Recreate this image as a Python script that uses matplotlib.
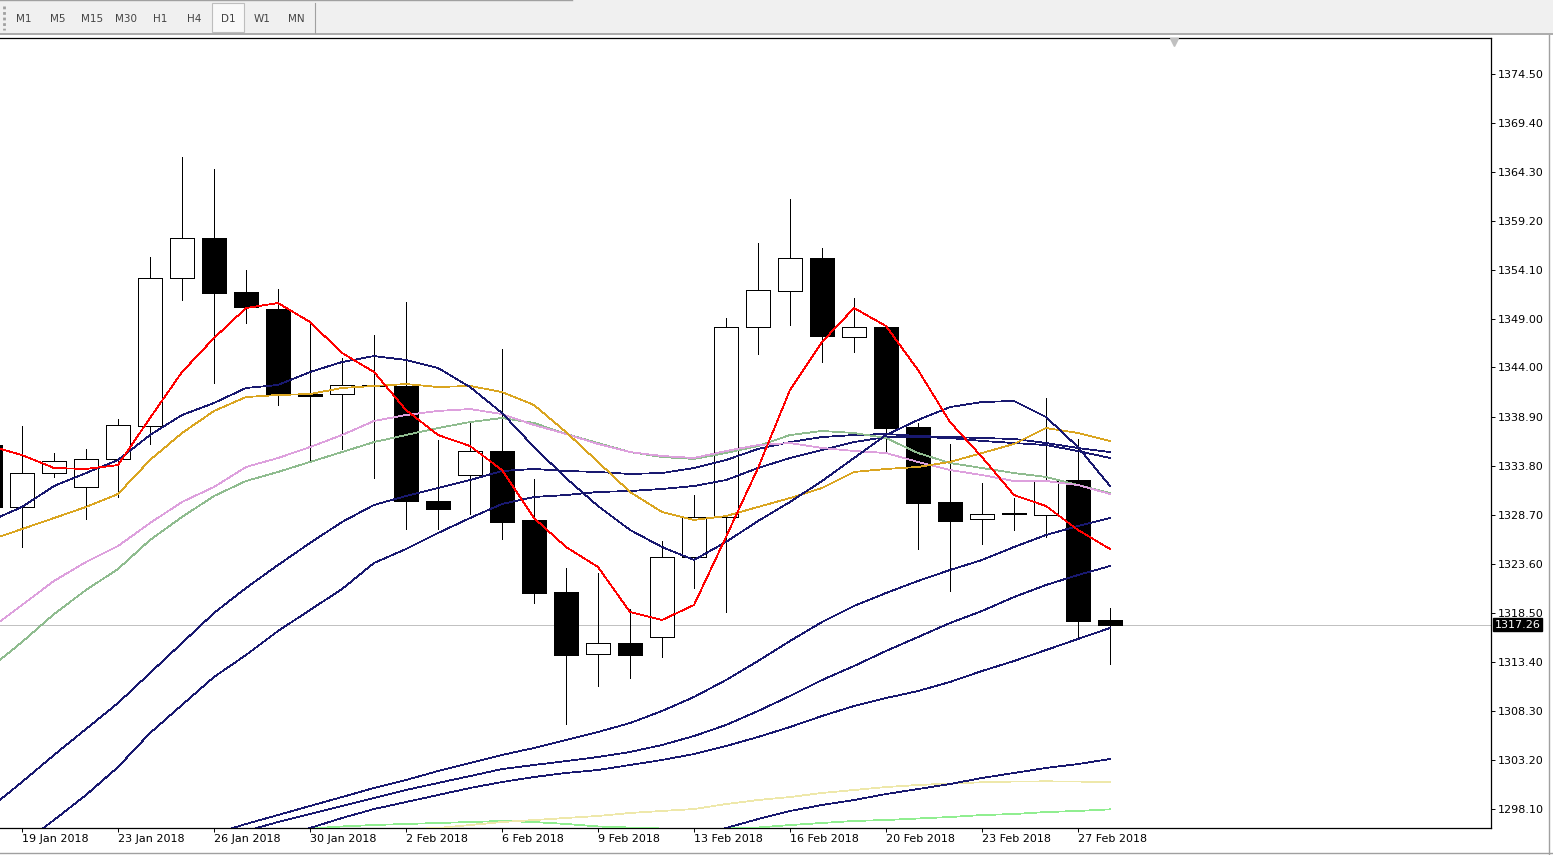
import matplotlib
matplotlib.use("Agg")
import matplotlib.pyplot as plt
import numpy as np
from matplotlib.patches import Rectangle
from matplotlib.lines import Line2D

# Daily candles, 18 Jan 2018 (bar -1, cut off at the left edge) .. 28 Feb 2018 (bar 34)
FIRST_BAR = -1
opens = [1335.94, 1329.47, 1333.00, 1331.55, 1334.46, 1337.95, 1353.27, 1357.43, 1351.82,
         1350.08, 1341.21, 1341.21, 1342.15, 1342.08, 1330.12, 1332.79, 1335.29, 1328.15,
         1320.63, 1314.19, 1315.33, 1315.95, 1324.27, 1328.43, 1348.21, 1351.92, 1355.35,
         1347.17, 1348.21, 1337.78, 1329.99, 1328.22, 1328.85, 1328.63, 1332.27, 1317.75]
highs = [1336.46, 1337.92, 1335.11, 1335.53, 1338.68, 1355.48, 1365.88, 1364.63, 1354.13,
         1352.16, 1348.59, 1344.95, 1347.38, 1350.81, 1336.46, 1338.36, 1345.92, 1332.41,
         1323.16, 1322.61, 1318.89, 1325.93, 1330.74, 1349.11, 1356.94, 1361.51, 1356.39,
         1351.22, 1348.42, 1338.20, 1336.05, 1331.99, 1330.46, 1340.83, 1336.57, 1319.00]
lows = [1328.97, 1325.34, 1332.65, 1328.25, 1330.57, 1336.08, 1351.01, 1342.42, 1348.66,
        1340.10, 1334.21, 1335.50, 1332.54, 1327.24, 1327.24, 1328.77, 1326.20, 1319.49,
        1306.94, 1310.92, 1311.75, 1313.94, 1321.11, 1318.61, 1345.43, 1348.45, 1344.60,
        1345.64, 1335.25, 1325.10, 1320.73, 1325.62, 1327.14, 1326.41, 1315.75, 1313.18]
closes = [1329.49, 1333.00, 1334.25, 1334.46, 1337.99, 1353.27, 1357.43, 1351.77, 1350.32,
          1341.14, 1341.04, 1342.15, 1342.08, 1330.15, 1329.32, 1335.29, 1327.97, 1320.59,
          1314.14, 1315.33, 1314.14, 1324.27, 1328.43, 1348.18, 1352.02, 1355.35, 1347.30,
          1348.18, 1337.74, 1329.88, 1328.07, 1328.74, 1328.75, 1332.23, 1317.68, 1317.26]
bid = 1317.26

# Moving averages (value per bar, starting at the given bar)
ma_red = [1335.84, 1334.90, 1333.55, 1333.45, 1333.86, 1338.75, 1343.53, 1347.06, 1350.18,
          1350.70, 1348.73, 1345.51, 1343.53, 1339.58, 1336.98, 1335.84, 1333.34, 1328.35,
          1325.34, 1323.26, 1318.58, 1317.75, 1319.31, 1326.38, 1333.55, 1341.66, 1346.65,
          1350.18, 1348.31, 1343.74, 1338.33, 1334.69, 1330.74, 1329.60, 1327.11, 1325.13]
ma_navy_a = [1328.04, 1329.50, 1331.68, 1333.03, 1334.38, 1336.98, 1339.06, 1340.31, 1341.87,
             1342.18, 1343.53, 1344.57, 1345.19, 1344.78, 1343.95, 1341.97, 1339.27, 1335.73,
             1332.51, 1329.60, 1327.11, 1325.34, 1323.99, 1325.86, 1328.04, 1330.02, 1332.20,
             1334.59, 1336.98, 1338.54, 1339.89, 1340.41, 1340.52, 1338.85, 1335.73, 1331.68]
ma_orange = [1326.07, 1327.21, 1328.35, 1329.50, 1330.85, 1334.38, 1337.19, 1339.48, 1340.93,
             1341.14, 1341.24, 1341.87, 1342.08, 1342.28, 1341.97, 1342.08, 1341.45, 1340.10,
             1337.29, 1334.18, 1331.06, 1328.98, 1328.15, 1328.56, 1329.50, 1330.43, 1331.47,
             1333.14, 1333.45, 1333.66, 1334.18, 1335.11, 1336.05, 1337.71, 1337.19, 1336.36]
ma_plum = [1316.82, 1319.31, 1321.81, 1323.78, 1325.44, 1327.83, 1330.02, 1331.58, 1333.66,
           1334.59, 1335.73, 1336.98, 1338.44, 1339.06, 1339.48, 1339.68, 1339.16, 1338.02,
           1337.09, 1336.05, 1335.21, 1334.80, 1334.59, 1335.32, 1335.94, 1336.15, 1335.63,
           1335.32, 1335.11, 1334.18, 1333.34, 1332.82, 1332.20, 1332.20, 1331.78, 1330.85]
ma_green = [1312.76, 1315.46, 1318.37, 1320.87, 1323.05, 1326.07, 1328.46, 1330.64, 1332.20,
            1333.14, 1334.18, 1335.21, 1336.25, 1336.98, 1337.71, 1338.33, 1338.75, 1338.23,
            1337.09, 1336.15, 1335.21, 1334.69, 1334.49, 1335.11, 1335.84, 1336.98, 1337.40,
            1337.19, 1336.67, 1335.11, 1334.07, 1333.55, 1333.03, 1332.62, 1331.78, 1330.95]
ma_navy_b = [1298.21, 1300.91, 1303.72, 1306.42, 1309.12, 1312.24, 1315.36, 1318.48, 1321.08,
             1323.47, 1325.76, 1327.94, 1329.71, 1330.64, 1331.47, 1332.30, 1333.24, 1333.45,
             1333.24, 1333.14, 1332.93, 1333.03, 1333.55, 1334.38, 1335.53, 1336.25, 1336.77,
             1336.98, 1337.09, 1336.88, 1336.77, 1336.67, 1336.57, 1336.15, 1335.63, 1335.21]
ma_navy_c = [1291.76, 1294.47, 1296.96, 1299.56, 1302.47, 1306.00, 1308.92, 1311.83, 1314.11,
             1316.61, 1318.79, 1320.97, 1323.68, 1325.13, 1326.79, 1328.35, 1329.81, 1330.54,
             1330.74, 1331.06, 1331.16, 1331.37, 1331.68, 1332.30, 1333.55, 1334.59, 1335.42,
             1336.25, 1336.77, 1336.77, 1336.67, 1336.36, 1336.15, 1335.94, 1335.32, 1334.59]
ma_navy_d = [1295.51, 1296.55, 1297.48, 1298.42, 1299.35, 1300.29, 1301.12, 1302.05, 1302.89,
             1303.72, 1304.45, 1305.28, 1306.11, 1307.04, 1308.29, 1309.75, 1311.51, 1313.49,
             1315.57, 1317.54, 1319.21, 1320.56, 1321.81, 1322.95, 1323.99, 1325.34, 1326.59,
             1327.52, 1328.35]
ma_navy_e = [1295.82, 1296.75, 1297.58, 1298.42, 1299.25, 1300.08, 1300.81, 1301.53, 1302.26,
             1302.68, 1303.09, 1303.51, 1304.03, 1304.76, 1305.69, 1306.84, 1308.29, 1309.85,
             1311.51, 1312.97, 1314.53, 1315.98, 1317.44, 1318.69, 1320.14, 1321.39, 1322.43,
             1323.36]
ma_navy_f = [1295.09, 1296.13, 1297.17, 1298.10, 1298.83, 1299.56, 1300.29, 1300.91, 1301.43,
             1301.85, 1302.16, 1302.68, 1303.20, 1303.82, 1304.65, 1305.59, 1306.63, 1307.77,
             1308.81, 1309.64, 1310.37, 1311.31, 1312.45, 1313.49, 1314.63, 1315.78, 1316.92]
ma_navy_g = [1295.30, 1296.13, 1297.06, 1297.90, 1298.52, 1299.04, 1299.66, 1300.18, 1300.70,
             1301.33, 1301.85, 1302.37, 1302.78, 1303.30]
ma_khaki = [1296.02, 1296.13, 1296.44, 1296.75, 1296.96, 1297.17, 1297.38, 1297.69, 1297.90,
            1298.10, 1298.62, 1299.04, 1299.35, 1299.77, 1300.08, 1300.39, 1300.60, 1300.75,
            1300.88, 1300.96, 1300.98, 1300.96, 1300.88]
ma_lightgreen = [1296.08, 1296.29, 1296.44, 1296.55, 1296.65, 1296.75, 1296.86, 1296.75,
                 1296.55, 1296.29, 1296.18, 1296.08, 1296.03, 1296.08, 1296.18, 1296.44,
                 1296.65, 1296.86, 1296.96, 1297.12, 1297.27, 1297.48, 1297.58, 1297.79,
                 1297.90, 1298.07]

date_ticks = [0, 3, 6, 9, 12, 15, 18, 21, 24, 27, 30, 33]
date_labels = ["19 Jan 2018", "23 Jan 2018", "26 Jan 2018", "30 Jan 2018", "2 Feb 2018",
               "6 Feb 2018", "9 Feb 2018", "13 Feb 2018", "16 Feb 2018", "20 Feb 2018",
               "23 Feb 2018", "27 Feb 2018"]
price_ticks = [1298.10, 1303.20, 1308.30, 1313.40, 1318.50, 1323.60, 1328.70, 1333.80,
               1338.90, 1344.00, 1349.00, 1354.10, 1359.20, 1364.30, 1369.40, 1374.50]
timeframes = ["M1", "M5", "M15", "M30", "H1", "H4", "D1", "W1", "MN"]
active_timeframe = "D1"

W, H = 1553, 855
NAVY = "#191970"
LW = 0.7      # candles, about one pixel at 100 dpi
MA_LW = 0.55  # thin indicator lines


def fx(x):
    return x / W


def fy(y):
    return 1 - y / H


def main():
    fig = plt.figure(figsize=(W / 100, H / 100), dpi=100)
    fig.patch.set_facecolor("white")

    # toolbar with timeframe buttons
    tb = fig.add_axes([0, fy(35), 1, 35 / H])
    tb.set_xlim(0, W)
    tb.set_ylim(35, 0)
    tb.axis("off")
    tb.add_patch(Rectangle((0, 0), W, 35, fc="#F0F0F0", ec="none"))
    tb.plot([0, 572], [0.5, 0.5], color="#A0A0A0", lw=1)
    tb.plot([0, W], [34, 34], color="#A0A0A0", lw=1.2)
    tb.plot([4, 4], [6, 30], color="#A0A0A0", lw=2, ls=(0, (1, 1)))
    tb.plot([314.5, 314.5], [3, 33], color="#A0A0A0", lw=0.8)
    for i, name in enumerate(timeframes):
        xc = 24 + 34 * i
        if name == active_timeframe:
            tb.add_patch(Rectangle((xc - 16, 3.5), 32, 29, fc="#F9F9F9", ec="#BEBEBE", lw=0.8))
        tb.text(xc, 18.5, name, ha="center", va="center", fontsize=7.5, color="#444444")

    # main chart
    ax = fig.add_axes([0, fy(828), fx(1491), (828 - 38) / H])
    bars = np.arange(FIRST_BAR, FIRST_BAR + len(opens))

    ax.vlines(bars, lows, highs, color="black", lw=LW, zorder=2, antialiased=False)
    for b, o, c in zip(bars, opens, closes):
        bull = c >= o
        ax.add_patch(Rectangle((b - 0.375, min(o, c)), 0.75, abs(c - o),
                               fc="white" if bull else "black", ec="black", lw=LW,
                               zorder=3, antialiased=False))

    ax.axhline(bid, color="#C0C0C0", lw=LW, zorder=1)

    mas = [
        (ma_lightgreen, 9, "#90EE90"),
        (ma_khaki, 12, "#EEE8AA"),
        (ma_navy_g, 21, NAVY),
        (ma_navy_f, 8, NAVY),
        (ma_navy_e, 7, NAVY),
        (ma_navy_d, 6, NAVY),
        (ma_navy_c, -1, NAVY),
        (ma_navy_b, -1, NAVY),
        (ma_green, -1, "#8FBC8F"),
        (ma_plum, -1, "#DDA0DD"),
        (ma_orange, -1, "#DAA520"),
        (ma_navy_a, -1, NAVY),
        (ma_red, -1, "#FF0000"),
    ]
    for vals, start, col in mas:
        xs = np.arange(start, start + len(vals))
        ax.plot(xs, vals, color=col, lw=MA_LW, zorder=4, antialiased=False)

    ax.set_xlim(-22 / 32, 1469 / 32)
    ax.set_ylim(1296.13, 1378.25)

    for side in ["top", "bottom", "right"]:
        ax.spines[side].set_linewidth(0.9)
        ax.spines[side].set_color("black")
    ax.spines["left"].set_visible(False)

    ax.yaxis.tick_right()
    ax.set_yticks(price_ticks, [f"{p:.2f}" for p in price_ticks])
    ax.tick_params(axis="y", direction="out", length=3, width=LW, pad=2, labelsize=8,
                   colors="black")
    ax.set_xticks(date_ticks, date_labels)
    ax.tick_params(axis="x", direction="out", length=3, width=LW, pad=1.5, labelsize=8,
                   colors="black")
    for t in ax.get_xticklabels():
        t.set_horizontalalignment("left")

    # current bid label on the price scale
    ax.annotate(f"{bid:.2f}", xy=(1.0, bid), xycoords=("axes fraction", "data"),
                xytext=(2.5, 0), textcoords="offset points", va="center", ha="left",
                fontsize=8, color="white",
                bbox=dict(boxstyle="square,pad=0.15", fc="black", ec="black"))

    # chart shift marker, just under the top border
    shift_bar = 36
    ax.plot([shift_bar], [1 - 4 / 790], marker="v", ms=6, color="#C0C0C0", mec="#C0C0C0",
            transform=ax.get_xaxis_transform(), clip_on=False, zorder=5)

    # window borders
    fig.add_artist(Line2D([fx(1548.5), fx(1548.5)], [fy(35), fy(855)], color="#A0A0A0", lw=1))
    fig.add_artist(Line2D([0, 1], [fy(853), fy(853)], color="#A0A0A0", lw=1))

    fig.savefig("out.png", dpi=100, facecolor="white")
    plt.close(fig)


if __name__ == "__main__":
    main()
